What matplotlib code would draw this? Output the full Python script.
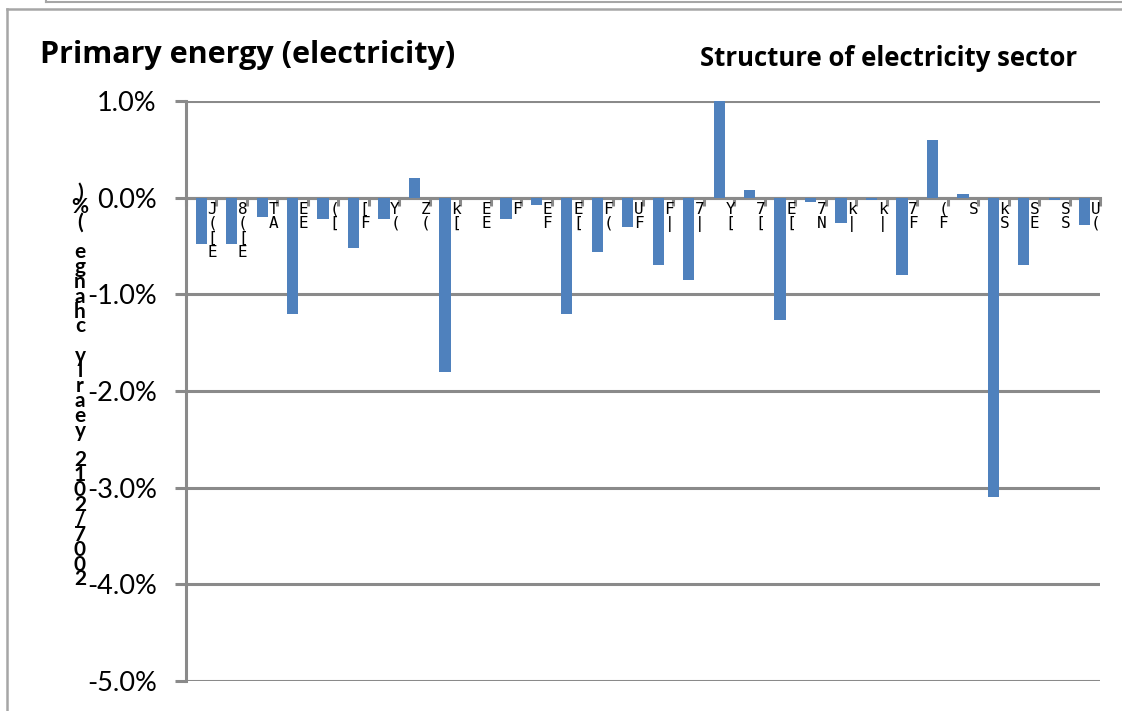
import numpy as np
import matplotlib
matplotlib.use("Agg")
import matplotlib.pyplot as plt
from matplotlib.lines import Line2D

# ---------- data ----------
# yearly change 2007/2012 (%) per category (30 categories, labels unreadable in the source)
valores = [-0.48, -0.48, -0.20, -1.20, -0.22, -0.52, -0.22, 0.20, -1.80, 0.00,
           -0.22, -0.08, -1.20, -0.56, -0.30, -0.70, -0.85, 1.00, 0.08, -1.27,
           -0.04, -0.26, -0.02, -0.80, 0.60, 0.04, -3.10, -0.70, -0.02, -0.28]
# fragments of the clipped category labels, as they show in the picture
rotulos = ["J\n(\n[\nE", "8\n(\n[\nE", "T\nA", "E\nE", "(\n[", "[\nF", "Y\n(", "Z\n(",
           "k\n[", "E\nE", "F", "E\nF", "E\n[", "F\n(", "U\nF", "F\n|", "7\n|", "Y\n[",
           "7\n[", "E\n[", "7\nN", "k\n|", "k\n|", "7\nF", "(\nF", "S", "k\nS", "S\nE",
           "S\nS", "U\n("]
y_ticks = [-5, -4, -3, -2, -1, 0, 1]
titulo = "Primary energy (electricity)"
subtitulo = "Structure of electricity sector"
eixo_y = "2007/2012 yearly change (%)"

AZUL = "#4F81BD"
CINZA = "#8a8a8a"

fig = plt.figure(figsize=(11.22, 7.11), dpi=100)
ax = fig.add_axes([0.1658, 0.0422, 0.8146, 0.8158])

x = np.arange(len(valores))
ax.bar(x, valores, width=0.37, color=AZUL, zorder=3)

ax.set_xlim(-0.5, len(valores) - 0.5)
ax.set_ylim(-5, 1)
ax.set_yticks(y_ticks)
ax.set_yticklabels(["%.1f%%" % v for v in y_ticks], fontsize=19.5, family="Lato")
ax.yaxis.grid(True, color=CINZA, linewidth=2.2, zorder=1)

# categoria no zero, com ticks entre as barras
ax.spines["bottom"].set_position(("data", 0))
ax.spines["bottom"].set_color(CINZA)
ax.spines["bottom"].set_linewidth(2.2)
ax.spines["bottom"].set_zorder(2)
ax.set_xticks(np.arange(-0.5, len(valores), 1))
ax.set_xticklabels([])
ax.tick_params(axis="x", direction="out", length=5.5, width=2.2, color=CINZA)
ax.tick_params(axis="y", direction="out", length=8, width=2.2, color=CINZA, pad=13)
ax.spines["left"].set_color(CINZA)
ax.spines["left"].set_linewidth(2.2)
ax.spines["top"].set_visible(False)
ax.spines["right"].set_visible(False)

for i, r in enumerate(rotulos):
    ax.text(i + 0.36, -0.04, r, ha="center", va="top", fontsize=11.5,
            family="DejaVu Sans Mono", linespacing=0.95, zorder=4)

# titulos
fig.text(40 / 1122, 1 - 55 / 711, titulo, fontsize=22, fontweight="bold",
         family="Open Sans", ha="left", va="center")
fig.text(1077 / 1122, 1 - 58 / 711, subtitulo, fontsize=18.5, fontweight="bold",
         family="Open Sans", ha="right", va="center")

# rotulo do eixo y empilhado (caracteres de pe, ordem invertida)
fig.text(80 / 1122, 1 - 386 / 711, "\n".join(reversed(eixo_y)), fontsize=15,
         fontweight="bold", family="Lato", ha="center", va="center", linespacing=0.68)

# molduras
fig.add_artist(Line2D([6.5 / 1122, 6.5 / 1122], [0, 1 - 8.5 / 711], color="#a6a6a6", lw=1.8))
fig.add_artist(Line2D([6.5 / 1122, 1], [1 - 8.5 / 711, 1 - 8.5 / 711], color="#a6a6a6", lw=1.8))
fig.add_artist(Line2D([46 / 1122, 1], [1 - 1.5 / 711, 1 - 1.5 / 711], color="#a6a6a6", lw=1.5))
fig.add_artist(Line2D([46 / 1122, 46 / 1122], [1 - 1.5 / 711, 1], color="#a6a6a6", lw=1.5))

fig.savefig("out.png", dpi=100)
